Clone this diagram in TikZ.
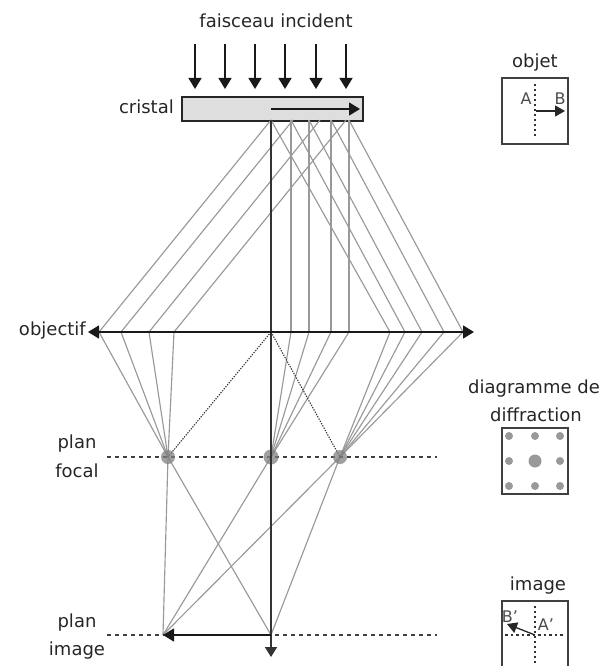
\documentclass[tikz,border=0pt]{standalone}
\usepackage{fontspec}
\setmainfont{DejaVu Sans}
\usetikzlibrary{arrows.meta}
\tikzset{
  ray/.style={draw=black!40,line width=1.15pt},
  axisline/.style={draw=black!80,line width=1.7pt},
  dotline/.style={draw=black!80,line width=1.1pt,dash pattern=on 1.3pt off 1.3pt},
  planeline/.style={draw=black!75,line width=1.2pt,dash pattern=on 4pt off 4pt},
  beam/.style={draw=black!90,line width=1.5pt,-{Triangle[length=11pt,width=13pt]}},
  smallbeam/.style={draw=black!85,line width=1.3pt,-{Triangle[length=10pt,width=11pt]}},
  label/.style={inner sep=0pt,font=\fontsize{18}{20}\selectfont,text=black!85},
  small/.style={inner sep=0pt,font=\fontsize{16}{18}\selectfont,text=black!70},
  inset/.style={draw=black!75,line width=1.5pt},
  spot/.style={circle,fill=black!50,draw=none,inner sep=0pt,minimum size=#1},
}
\begin{document}
\begin{tikzpicture}[x=1pt,y=-1pt]
\useasboundingbox (0,0) rectangle (600,666);
% crystal
\node[draw=black!85,line width=1.6pt,fill=black!13,minimum width=181pt,minimum height=24pt,inner sep=0pt,anchor=north west] (cristal) at (181,96) {};
% points on the crystal
\foreach \n/\x in {a/271,b/291,c/309,d/331,e/349,f/293,g/320,h/346}{\coordinate (s\n) at (\x,120);}
% points on the lens
\foreach \n/\x in {l1/99,l2/121,l3/149,l4/174,o/271,m1/291,m2/309,m3/331,m4/349,r1/390,r2/405,r3/422,r4/444,r5/463}{\coordinate (o\n) at (\x,332);}
% focal spots, image points
\coordinate (fl) at (168,457);
\coordinate (fc) at (271,457);
\coordinate (fr) at (340,457);
\coordinate (ia) at (271,635);
\coordinate (ib) at (163,635);
% rays crystal to lens
\foreach \p/\q in {a/l1,f/l2,g/l3,h/l4,b/m1,c/m2,d/m3,e/m4,a/r1,b/r2,c/r3,d/r4,e/r5}{\draw[ray] (s\p) -- (o\q);}
% rays lens to focal plane
\foreach \q in {l1,l2,l3,l4}{\draw[ray] (o\q) -- (fl);}
\foreach \q in {m1,m2,m3,m4}{\draw[ray] (o\q) -- (fc);}
\foreach \q in {r1,r2,r3,r4,r5}{\draw[ray] (o\q) -- (fr);}
\draw[dotline] (oo) -- (fl);
\draw[dotline] (oo) -- (fr);
% rays focal to image
\draw[ray] (fl) -- (ib);
\draw[ray] (fl) -- (ia);
\draw[ray] (fc) -- (ib);
\draw[ray] (fr) -- (ib);
\draw[ray] (fr) -- (ia);
% planes
\coordinate (pfa) at (107,457); \coordinate (pfb) at (437,457);
\coordinate (pia) at (107,635); \coordinate (pib) at (437,635);
\draw[planeline] (pfa) -- (pfb);
\draw[planeline] (pia) -- (pib);
% spots
\node[spot=14pt,fill opacity=.75] (sl) at (fl) {};
\node[spot=15pt,fill opacity=.75] (sc) at (fc) {};
\node[spot=14pt,fill opacity=.75] (sr) at (fr) {};
% axis
\coordinate (axisend) at (271,657);
\draw[axisline,-{Triangle[length=10pt,width=12pt]}] (sa) -- (axisend);
% lens
\coordinate (lensl) at (88,332); \coordinate (lensr) at (474,332);
\draw[beam] (oo) -- (lensl);
\draw[beam] (oo) -- (lensr);
% image arrow
\draw[beam] (ia) -- (ib);
% crystal arrow
\coordinate (cra) at (271,109); \coordinate (crb) at (360,109);
\draw[beam] (cra) -- (crb);
% incident arrows
\foreach \n/\x in {1/195,2/225,3/255,4/285,5/316,6/346}{
  \coordinate (it\n) at (\x,44); \coordinate (ih\n) at (\x,89);
  \draw[beam] (it\n) -- (ih\n);
}
% labels
\node[label] (t1) at (276,21) {faisceau incident};
\node[label,anchor=east] (t2) at (174,107) {cristal};
\node[label,anchor=east] (t3) at (86,331) {objectif};
\node[label] (t4) at (77,444) {plan};
\node[label] (t5) at (77,471) {focal};
\node[label] (t6) at (77,623) {plan};
\node[label] (t7) at (77,651) {image};
\node[label] (t8) at (535,63) {objet};
\node[label] (t9) at (534,389) {diagramme de};
\node[label] (t10) at (536,415) {diffraction};
\node[label] (t11) at (538,586) {image};
% inset objet
\draw[inset] (502,78) rectangle (568,144);
\coordinate (oa) at (535,84); \coordinate (ob) at (535,138);
\draw[dotline,line width=1.5pt,dash pattern=on 2pt off 3pt] (oa) -- (ob);
\coordinate (oc) at (536,111); \coordinate (od) at (565,111);
\draw[smallbeam] (oc) -- (od);
\node[small] (A) at (526,99) {A};
\node[small] (B) at (560,99) {B};
% inset diffraction
\draw[inset] (502,428) rectangle (568,494);
\foreach \x in {509,535,560}{\foreach \y in {436,461,486}{\node[spot=8pt,fill=black!40] (d\x\y) at (\x,\y) {};}}
\node[spot=13pt,fill=black!40] (dcentre) at (535,461) {};
% inset image
\draw[inset] (502,666.8) -- (502,601) -- (568,601) -- (568,666.8);
\coordinate (ic) at (535,606); \coordinate (id) at (535,666);
\draw[dotline,line width=1.5pt,dash pattern=on 2pt off 3pt] (ic) -- (id);
\coordinate (ie) at (505,635); \coordinate (if) at (565,635);
\draw[dotline,line width=1.5pt,dash pattern=on 2.5pt off 3pt] (ie) -- (if);
\coordinate (ig) at (535,635); \coordinate (ih) at (507,624);
\draw[smallbeam] (ig) -- (ih);
\node[small] (Bp) at (510,617) {B'};
\node[small] (Ap) at (546,625) {A'};
\end{tikzpicture}
\end{document}
